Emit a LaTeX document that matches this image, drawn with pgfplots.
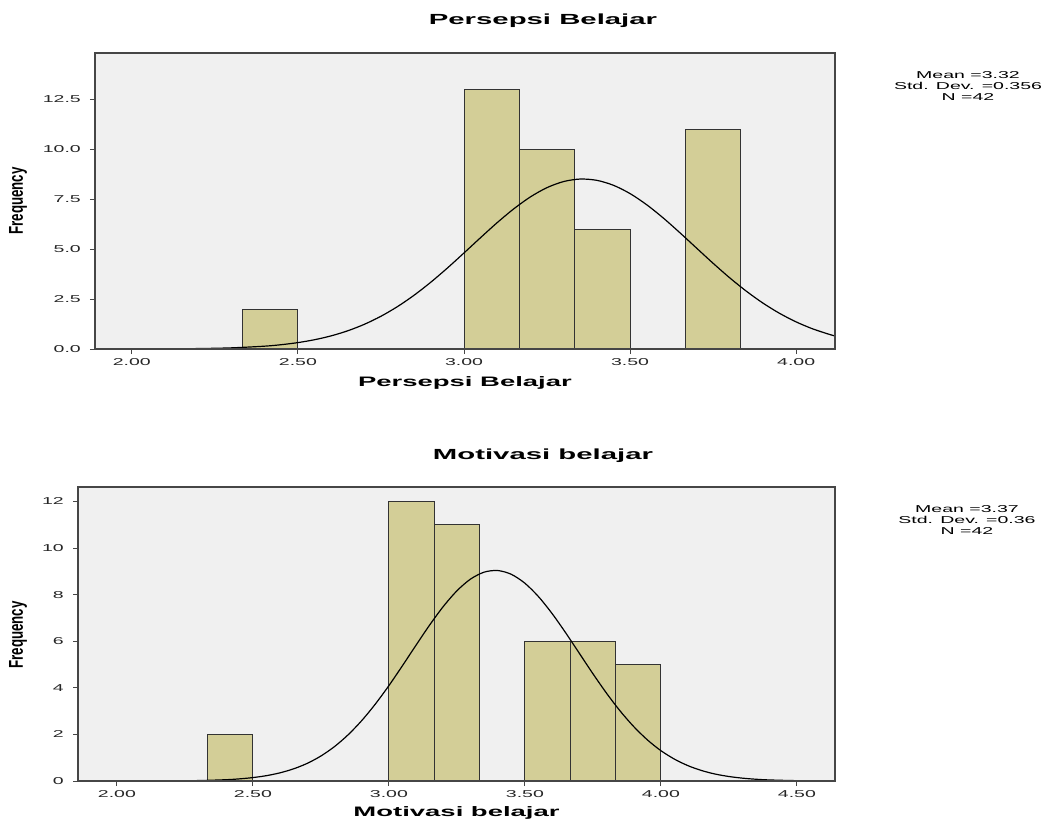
\documentclass[border=0pt]{standalone}
\usepackage{pgfplots}
\pgfplotsset{compat=1.18}
\usepackage{fontspec}
\setmainfont{Liberation Sans}

\definecolor{barfill}{RGB}{211,206,151}
\definecolor{bgfill}{RGB}{240,240,240}
\definecolor{framegray}{RGB}{70,70,70}

% 1 px of the reference = 0.75pt
\pgfplotsset{spss/.style={
  scale only axis, anchor=north west,
  axis background/.style={fill=bgfill},
  axis line style={framegray, line width=1pt},
  tick style={framegray, line width=0.75pt},
  tick align=outside, major tick length=3.75pt,
  xtick pos=bottom, ytick pos=left,
  /pgf/number format/assume math mode=true,
  tick label style={font=\fontsize{7.5}{9}\selectfont, xscale=1.95, text=black!85},
  axis on top,
}}
\tikzset{
  bars/.style={ybar interval, fill=barfill, draw=black!80, line width=0.75pt},
  curve/.style={black, line width=0.9pt, smooth, mark=none},
}

\begin{document}
\begin{tikzpicture}
\useasboundingbox (0,0) rectangle (782.25pt,-615.75pt);

% ---------- Persepsi Belajar ----------
\begin{axis}[spss, at={(71.25pt,-39.75pt)}, width=555pt, height=222pt,
  xmin=1.889, xmax=4.117, ymin=0, ymax=14.8,
  xtick={2,2.5,3,3.5,4}, ytick={0,2.5,5,7.5,10,12.5},
  xticklabel={\pgfmathprintnumber[fixed,fixed zerofill,precision=2]{\tick}},
  yticklabel={\pgfmathprintnumber[fixed,fixed zerofill,precision=1]{\tick}},
]
\addplot[bars] coordinates {(2.3333,2) (2.5,2)};
\addplot[bars] coordinates {(3.0,13) (3.1667,10) (3.3333,6) (3.5,6)};
\addplot[bars] coordinates {(3.6667,11) (3.8333,11)};
\addplot[curve] coordinates {
 (1.889,0.0006) (2.0,0.002) (2.1,0.007) (2.2,0.022) (2.3,0.058) (2.4,0.142)
 (2.45,0.216) (2.5,0.32) (2.55,0.464) (2.6,0.657) (2.65,0.911) (2.7,1.235)
 (2.75,1.638) (2.8,2.123) (2.85,2.692) (2.9,3.339) (2.95,4.049) (3.0,4.803)
 (3.05,5.570) (3.1,6.319) (3.15,7.010) (3.2,7.606) (3.25,8.070) (3.3,8.373)
 (3.35,8.498) (3.4,8.433) (3.45,8.185) (3.5,7.77) (3.55,7.213) (3.6,6.549)
 (3.65,5.813) (3.7,5.048) (3.75,4.286) (3.8,3.559) (3.85,2.891) (3.9,2.296)
 (3.95,1.784) (4.0,1.355) (4.05,1.006) (4.1,0.731) (4.117,0.653)};
\end{axis}

\node[font=\bfseries\fontsize{11}{13}\selectfont, xscale=2, anchor=base]
  at (407.25pt,-18.75pt) {Persepsi Belajar};
\node[font=\bfseries\fontsize{10.3}{12}\selectfont, xscale=2, anchor=base]
  at (348.75pt,-290pt) {Persepsi Belajar};
\node[font=\bfseries\fontsize{10}{12}\selectfont, xscale=1.5, rotate=90]
  at (13.5pt,-150.75pt) {Frequency};
\node[font=\fontsize{7.5}{7.9}\selectfont, xscale=1.95, align=center, inner sep=0]
  at (726pt,-64.5pt) {Mean =3.32\\Std. Dev. =0.356\\N =42};

% ---------- Motivasi belajar ----------
\begin{axis}[spss, at={(58.5pt,-365.25pt)}, width=567.75pt, height=220.5pt,
  xmin=1.857, xmax=4.64, ymin=0, ymax=12.62,
  xtick={2,2.5,3,3.5,4,4.5}, ytick={0,2,4,6,8,10,12},
  xticklabel={\pgfmathprintnumber[fixed,fixed zerofill,precision=2]{\tick}},
]
\addplot[bars] coordinates {(2.3333,2) (2.5,2)};
\addplot[bars] coordinates {(3.0,12) (3.1667,11) (3.3333,11)};
\addplot[bars] coordinates {(3.5,6) (3.6667,6) (3.8333,5) (4.0,5)};
\addplot[curve] coordinates {
 (1.857,0) (1.9,0.0001) (2.0,0.0004) (2.1,0.0016) (2.2,0.0057) (2.3,0.0187)
 (2.4,0.0552) (2.45,0.091) (2.5,0.147) (2.55,0.230) (2.6,0.352) (2.65,0.524)
 (2.7,0.759) (2.75,1.073) (2.8,1.478) (2.85,1.983) (2.9,2.592) (2.95,3.301)
 (3.0,4.095) (3.05,4.954) (3.1,5.836) (3.15,6.699) (3.2,7.492) (3.25,8.164)
 (3.3,8.667) (3.35,8.965) (3.4,9.035) (3.45,8.872) (3.5,8.489) (3.55,7.913)
 (3.6,7.187) (3.65,6.359) (3.7,5.483) (3.75,4.606) (3.8,3.77) (3.85,3.006)
 (3.9,2.336) (3.95,1.768) (4.0,1.302) (4.05,0.937) (4.1,0.656) (4.15,0.448)
 (4.2,0.297) (4.25,0.193) (4.3,0.122) (4.35,0.075) (4.4,0.045) (4.5,0.015)
 (4.64,0.002)};
\end{axis}

\node[font=\bfseries\fontsize{11}{13}\selectfont, xscale=2, anchor=base]
  at (407.25pt,-344.25pt) {Motivasi belajar};
\node[font=\bfseries\fontsize{10.3}{12}\selectfont, xscale=2, anchor=base]
  at (342.4pt,-612pt) {Motivasi belajar};
\node[font=\bfseries\fontsize{10}{12}\selectfont, xscale=1.5, rotate=90]
  at (13.5pt,-476.25pt) {Frequency};
\node[font=\fontsize{7.5}{7.9}\selectfont, xscale=1.95, align=center, inner sep=0]
  at (725.25pt,-390pt) {Mean =3.37\\Std. Dev. =0.36\\N =42};
\end{tikzpicture}
\end{document}
